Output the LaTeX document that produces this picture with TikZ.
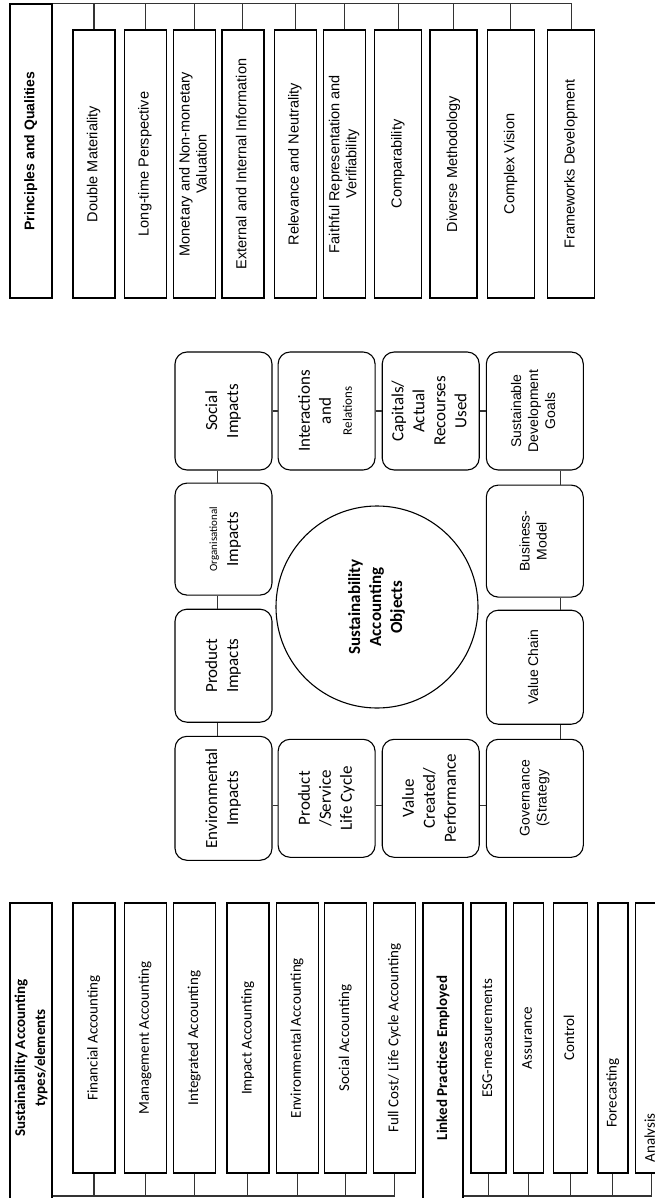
\documentclass[tikz,border=0pt]{standalone}
\usepackage{fontspec}
\setmainfont{Carlito}
\newfontfamily\arialfont{Liberation Sans}
\usepackage{graphicx}
\usetikzlibrary{positioning}

\newcommand{\vtext}[1]{\rotatebox{90}{\begin{tabular}{@{}c@{}}#1\end{tabular}}}
% rotated text pushed down inside its box
\newcommand{\vtextlow}[2]{\rotatebox{90}{\begin{tabular}{@{}c@{}}#2\end{tabular}\hspace*{#1}}}

\tikzset{
  hdr/.style={
    draw, line width=1.3pt, minimum width=42pt,
    inner sep=0pt
  },
  quality/.style={
    draw, line width=1.3pt, minimum width=42pt, minimum height=268pt,
    inner sep=0pt, font=\arialfont\fontsize{14.5}{17}\selectfont
  },
  acctype/.style={
    draw, line width=1.3pt, minimum width=42pt, minimum height=270pt,
    inner sep=0pt, font=\fontsize{15}{18}\selectfont
  },
  obj/.style={
    draw, rounded corners=12pt, line width=1.1pt,
    minimum width=97pt, minimum height=118pt,
    inner sep=0pt, font=\fontsize{17}{21}\selectfont
  },
  hub/.style={
    draw, circle, line width=1.1pt, minimum size=202pt,
    inner sep=0pt, font=\bfseries\fontsize{17}{21}\selectfont
  },
  link/.style={line width=1.1pt, draw=black!80}
}

\begin{document}
\begin{tikzpicture}[x=1pt,y=-1pt]
\useasboundingbox (0,0) rectangle (654,1198);

% ---------- Principles and qualities ----------
\node[hdr, minimum height=294pt, font=\arialfont\bfseries\fontsize{14}{17}\selectfont]
  (pq) at (31,151) {\vtext{Principles and Qualities}};
\node[quality] (dm) at (94,164) {\vtext{Double Materiality}};
\node[quality, right=8pt of dm]  (ltp)  {\vtext{Long-time Perspective}};
\node[quality, right=6pt of ltp] (mnv)  {\vtext{Monetary and Non-monetary\\Valuation}};
\node[quality, right=5pt of mnv] (eii)  {\vtext{External and Internal Information}};
\node[quality, right=9pt of eii] (rn)   {\vtext{Relevance and Neutrality}};
\node[quality, right=6pt of rn]  (frv)  {\vtext{Faithful Representation and\\Verifiability}};
\node[quality, minimum width=47pt, right=8pt of frv]  (comp)  {\vtext{Comparability}};
\node[quality, minimum width=47pt, right=7pt of comp]  (dmeth) {\vtext{Diverse Methodology}};
\node[quality, minimum width=47pt, right=9pt of dmeth] (cv)    {\vtext{Complex Vision}};
\node[quality, minimum width=47pt, right=12pt of cv]   (fd)    {\vtext{Frameworks Development}};

\draw[link] (pq.north east) -| (fd.north);
\draw[link] (dm.north)    -- (dm.north |- pq.north);
\draw[link] (ltp.north)   -- (ltp.north |- pq.north);
\draw[link] (mnv.north)   -- (mnv.north |- pq.north);
\draw[link] (eii.north)   -- (eii.north |- pq.north);
\draw[link] (rn.north)    -- (rn.north |- pq.north);
\draw[link] (frv.north)   -- (frv.north |- pq.north);
\draw[link] (comp.north)  -- (comp.north |- pq.north);
\draw[link] (dmeth.north) -- (dmeth.north |- pq.north);
\draw[link] (cv.north)    -- (cv.north |- pq.north);

% ---------- Sustainability accounting objects ----------
\node[obj] (soc) at (223.5,411) {\vtext{Social\\Impacts}};
\node[obj, minimum height=112pt, below=12pt of soc] (org)
  {\vtext{{\fontsize{11}{13}\selectfont Organisational}\\Impacts}};
\node[obj, minimum height=113pt, below=13pt of org] (prod) {\vtext{Product\\Impacts}};
\node[obj, minimum height=124pt, below=13pt of prod] (env) {\vtext{Environmental\\Impacts}};

\node[obj, right=5pt of soc]   (inter) {\vtext{Interactions\\and\\{\fontsize{13}{15}\selectfont Relations}}};
\node[obj, right=6pt of inter] (cap)   {\vtext{Capitals/\\Actual\\Recourses\\Used}};
\node[obj, font=\arialfont\fontsize{14}{17}\selectfont, right=6pt of cap] (sdg)
  {\vtext{Sustainable\\Development\\Goals}};
\node[obj, font=\arialfont\fontsize{14}{17}\selectfont, minimum height=112pt, below=14pt of sdg] (bm)
  {\vtext{Business-\\Model}};
\node[obj, font=\arialfont\fontsize{14}{17}\selectfont, minimum height=114pt, below=12pt of bm] (vch)
  {\vtext{Value Chain}};

\node[obj, right=5pt of env] (plc) {\vtext{Product\\/Service\\Life Cycle}};
\node[obj, right=6pt of plc] (vcp) {\vtext{Value\\Created/\\Performance}};
\node[obj, font=\arialfont\fontsize{14}{17}\selectfont, right=6pt of vcp] (gov)
  {\vtext{Governance\\(Strategy}};

\node[hub] (sao) at (377,607) {\vtext{Sustainability\\Accounting\\Objects}};

\draw[link] ([xshift=-6pt]soc.south)  -- ([xshift=-6pt]org.north);
\draw[link] ([xshift=-6pt]org.south)  -- ([xshift=-6pt]prod.north);
\draw[link] ([xshift=-6pt]prod.south) -- ([xshift=-6pt]env.north);
\draw[link] (soc) -- (inter);
\draw[link] (inter) -- (cap);
\draw[link] (cap) -- (sdg);
\draw[link] ([xshift=26pt]sdg.south) -- ([xshift=26pt]bm.north);
\draw[link] ([xshift=26pt]bm.south)  -- ([xshift=26pt]vch.north);
\draw[link] ([xshift=26pt]vch.south) -- ([xshift=26pt]gov.north);
\draw[link] ([yshift=-7pt]env.east) -- ([yshift=-7pt]plc.west);
\draw[link] ([yshift=-7pt]plc.east) -- ([yshift=-7pt]vcp.west);
\draw[link] ([yshift=-7pt]vcp.east) -- ([yshift=-7pt]gov.west);

% ---------- Accounting types / elements ----------
\coordinate (busb) at (0,1196);
\node[hdr, minimum height=310pt, font=\bfseries\fontsize{15}{20}\selectfont]
  (sat) at (31,1058) {\vtext{Sustainability Accounting\\types/elements}};
\node[acctype] (fa) at (94,1038) {\vtext{Financial Accounting}};
\node[acctype, right=8pt of fa]    (ma)   {\vtext{Management Accounting}};
\node[acctype, right=6pt of ma]    (ia)   {\vtext{Integrated Accounting}};
\node[acctype, right=10pt of ia]   (impa) {\vtext{Impact Accounting}};
\node[acctype, right=6pt of impa]  (ea)   {\vtext{Environmental Accounting}};
\node[acctype, right=5pt of ea]    (sa)   {\vtext{Social Accounting}};
\node[acctype, right=6pt of sa]    (fc)   {\vtext{Full Cost/ Life Cycle Accounting}};

\draw[link] (sat.east |- busb) -| (fc.south);
\draw[link] (fa.south)   -- (fa.south |- busb);
\draw[link] (ma.south)   -- (ma.south |- busb);
\draw[link] (ia.south)   -- (ia.south |- busb);
\draw[link] (impa.south) -- (impa.south |- busb);
\draw[link] (ea.south)   -- (ea.south |- busb);
\draw[link] (sa.south)   -- (sa.south |- busb);

% ---------- Linked practices ----------
\node[hdr, minimum width=40pt, minimum height=310pt, font=\bfseries\fontsize{15}{20}\selectfont]
  (lpe) at (443,1058) {\vtext{Linked Practices Employed}};
\node[acctype, minimum width=35pt] (esg) at (488.5,1038) {\vtext{ESG-measurements}};
\node[acctype, minimum width=30pt, right=6pt of esg]  (asr) {\vtext{Assurance}};
\node[acctype, minimum width=34pt, right=9pt of asr]  (ctl) {\vtext{Control}};
\node[acctype, minimum width=30pt, right=9pt of ctl]  (fcs) {\vtextlow{110pt}{Forecasting}};
\node[acctype, minimum width=32pt, right=6pt of fcs]  (ana) {\vtextlow{200pt}{Analysis}};

\draw[link] (lpe.east |- busb) -| (ana.south);
\draw[link] (esg.south) -- (esg.south |- busb);
\draw[link] (asr.south) -- (asr.south |- busb);
\draw[link] (ctl.south) -- (ctl.south |- busb);
\draw[link] (fcs.south) -- (fcs.south |- busb);

\end{tikzpicture}
\end{document}
